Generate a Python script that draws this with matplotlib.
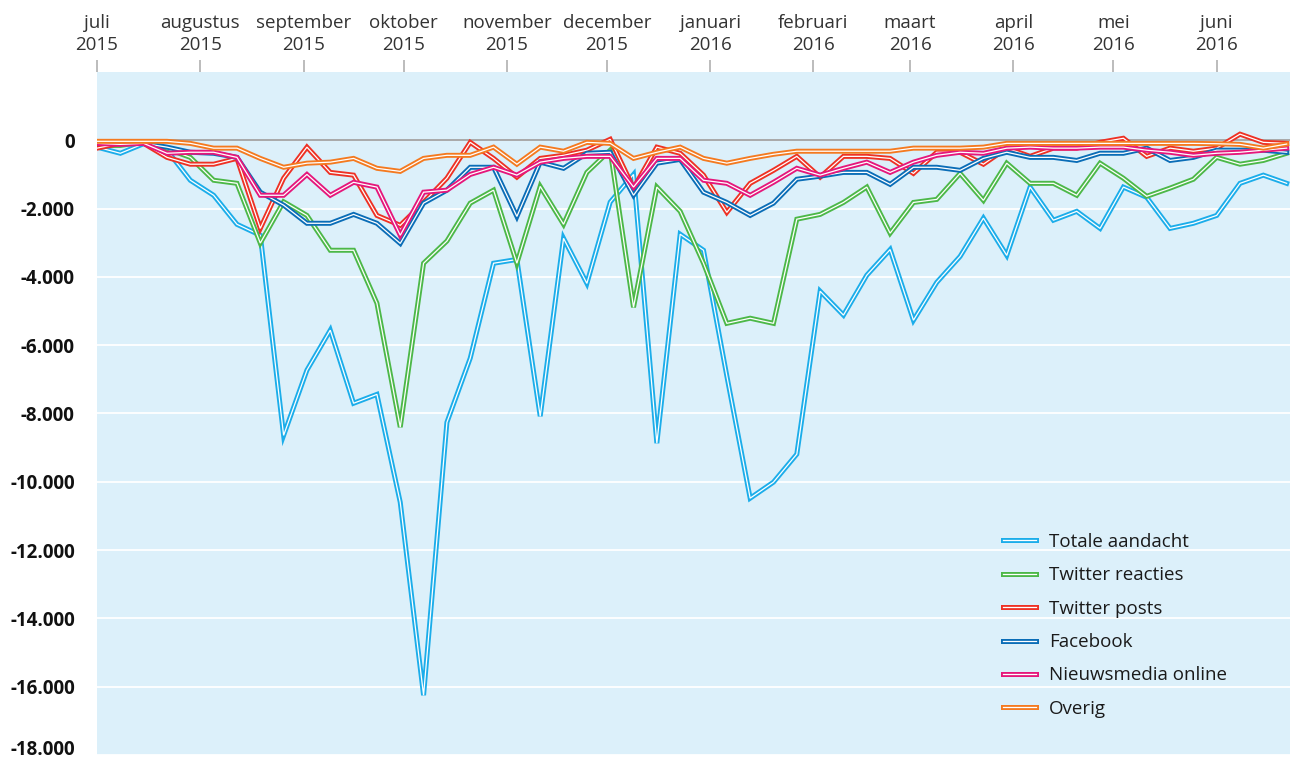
import matplotlib
matplotlib.use('Agg')
import matplotlib.pyplot as plt
from matplotlib.legend_handler import HandlerTuple
import pandas as pd


weeks = pd.date_range('2015-07-01', periods=52, freq='7D')
month_starts = pd.date_range('2015-07-01', '2016-06-01', freq='MS')
month_names = ['juli', 'augustus', 'september', 'oktober', 'november', 'december',
               'januari', 'februari', 'maart', 'april', 'mei', 'juni']
month_years = ['2015'] * 6 + ['2016'] * 6

totale = [-200, -380, -100, -290, -1170, -1610, -2460, -2780, -8640, -6730,
          -5560, -7700, -7440, -10600, -16250, -8260, -6380, -3600, -3490, -8080,
          -2870, -4190, -1810, -1000, -8870, -2750, -3220, -6900, -10480, -10010,
          -9190, -4420, -5120, -3950, -3200, -5270, -4160, -3400, -2280, -3370,
          -1370, -2340, -2080, -2580, -1370, -1670, -2580, -2430, -2200, -1260,
          -1020, -1260]
twitter_reacties = [-150, -150, -50, -250, -500, -1170, -1260, -3010, -1800, -2200,
                    -3220, -3220, -4770, -8400, -3600, -2950, -1840, -1460, -3600, -1350,
                    -2460, -940, -290, -4890, -1370, -2080, -3600, -5360, -5210, -5360,
                    -2310, -2170, -1820, -1370, -2720, -1820, -1730, -970, -1760, -670,
                    -1260, -1260, -1610, -670, -1110, -1640, -1400, -1140, -500, -700,
                    -590, -380]
twitter_posts = [-230, -90, -90, -500, -700, -700, -530, -2580, -1110, -200,
                 -940, -1020, -2200, -2490, -1820, -1110, -60, -530, -1080, -530,
                 -440, -290, 30, -1400, -200, -380, -1020, -2110, -1260, -880,
                 -470, -1080, -470, -470, -530, -970, -350, -350, -700, -230,
                 -470, -230, -230, -60, 60, -470, -230, -320, -230, 180,
                 -60, -90]
facebook = [-90, -90, -90, -200, -350, -380, -500, -1520, -1900, -2430,
            -2430, -2170, -2430, -3020, -1840, -1460, -790, -790, -2230, -640,
            -820, -380, -350, -1610, -670, -560, -1520, -1820, -2200, -1840,
            -1140, -1050, -940, -940, -1290, -790, -790, -880, -530, -350,
            -500, -500, -590, -380, -380, -230, -590, -500, -290, -290,
            -290, -350]
nieuwsmedia = [-90, -120, -90, -380, -350, -350, -500, -1610, -1610, -1000,
               -1610, -1230, -1370, -2780, -1520, -1460, -1000, -790, -1020, -640,
               -530, -470, -470, -1370, -530, -530, -1170, -1260, -1610, -1230,
               -820, -1020, -820, -640, -940, -640, -440, -350, -380, -230,
               -200, -230, -230, -200, -200, -290, -350, -440, -380, -350,
               -290, -230]
overig = [-30, -30, -30, -30, -90, -230, -230, -530, -790, -670,
          -640, -530, -820, -910, -530, -440, -440, -200, -700, -200,
          -320, -60, -90, -530, -350, -200, -530, -670, -530, -410,
          -320, -320, -320, -320, -320, -230, -230, -230, -200, -90,
          -90, -90, -90, -90, -90, -90, -90, -90, -100, -120,
          -230, -110]

series = [
    ('Totale aandacht', totale, '#1badea'),
    ('Twitter reacties', twitter_reacties, '#4cb848'),
    ('Twitter posts', twitter_posts, '#ee3124'),
    ('Facebook', facebook, '#0a6db7'),
    ('Nieuwsmedia online', nieuwsmedia, '#e5177b'),
    ('Overig', overig, '#f47a20'),
]
# drawing order (last on top)
draw_order = [0, 1, 3, 4, 2, 5]

y_ticks = list(range(-18000, 1, 2000))


def fmt(v):
    return '{:,}'.format(v).replace(',', '.')


def main():
    plt.rcParams['font.family'] = ['Open Sans', 'DejaVu Sans']
    fig = plt.figure(figsize=(12.9, 7.58), dpi=100)
    ax = fig.add_axes([97 / 1290, 3 / 758, 1193 / 1290, 683 / 758])
    ax.set_facecolor('#dcf0fa')
    for s in ax.spines.values():
        s.set_visible(False)

    ax.set_ylim(-18000, 2000)
    ax.set_xlim(pd.Timestamp('2015-07-01'), pd.Timestamp('2016-06-23'))

    ax.set_yticks(y_ticks)
    ax.set_yticklabels([fmt(v) for v in y_ticks], fontsize=13.5,
                       fontweight='bold', color='#111111')
    ax.get_yticklabels()[0].set_va('baseline')
    ax.tick_params(axis='y', length=0, pad=16)
    ax.grid(axis='y', color='white', lw=1.3)
    ax.set_axisbelow(True)
    ax.axhline(0, color='#a8a8a8', lw=1.4, zorder=1)

    ax.xaxis.tick_top()
    ax.set_xticks(month_starts)
    ax.set_xticklabels([m + '\n' + y for m, y in zip(month_names, month_years)],
                       fontsize=13.5, color='#333333', linespacing=1.3)
    ax.tick_params(axis='x', length=9, width=1.2, color='#b0b0b0', pad=4)

    handles = {}
    for i in draw_order:
        name, vals, col = series[i]
        thick, = ax.plot(weeks, vals, color=col, lw=3.6, solid_joinstyle='miter',
                         zorder=3 + i)
        thin, = ax.plot(weeks, vals, color='white', lw=0.9, solid_joinstyle='miter',
                        zorder=3 + i)
        handles[i] = (thick, thin)

    leg = fig.legend([handles[i] for i in range(len(series))],
                     [s[0] for s in series],
                     handler_map={tuple: HandlerTuple(ndivide=1)},
                     loc='upper left', bbox_to_anchor=(1003 / 1290, 1 - 533 / 758),
                     frameon=False, fontsize=13.5, handlelength=1.75,
                     handletextpad=0.7, labelspacing=0.82, borderpad=0,
                     borderaxespad=0)
    for t in leg.get_texts():
        t.set_color('#1a1a1a')

    fig.savefig('out.png', dpi=100)
    plt.close(fig)


if __name__ == '__main__':
    main()
